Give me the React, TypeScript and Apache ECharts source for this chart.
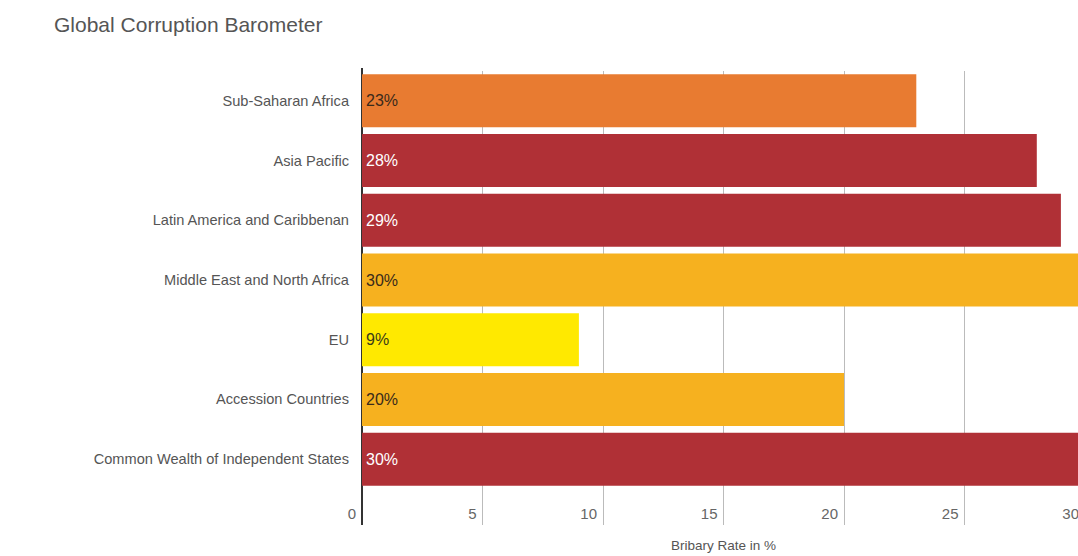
import React, { useEffect, useRef } from "react";
import * as echarts from "echarts";

const title = "Global Corruption Barometer";
const categories = [
  "Sub-Saharan Africa",
  "Asia Pacific",
  "Latin America and Caribbenan",
  "Middle East and North Africa",
  "EU",
  "Accession Countries",
  "Common Wealth of Independent States",
];
const bribaryRates = [23, 28, 29, 30, 9, 20, 30];
const barColors = ["#E87B31", "#B03036", "#B03036", "#F6B11F", "#FFE900", "#F6B11F", "#B03036"];
const labelColors = ["#3a2a1a", "#ffffff", "#ffffff", "#3a2a1a", "#3a3a1a", "#3a2a1a", "#ffffff"];
const xTicks = { min: 0, max: 30, interval: 5 };
const axisName = "Bribary Rate in %";

const FONT = "'Liberation Sans', Arial, sans-serif";

export default function App() {
  const ref = useRef<HTMLDivElement>(null);
  useEffect(() => {
    if (!ref.current) return;
    const chart = echarts.init(ref.current, undefined, { renderer: "svg" });
    const gridLeft = 362;
    const gridTop = 71;
    const gridHeight = 418;
    const gridBottomY = gridTop + gridHeight;
    chart.setOption({
      animation: false,
      backgroundColor: "#ffffff",
      textStyle: { fontFamily: FONT },
      title: {
        text: title,
        left: 49,
        top: 9,
        textStyle: { fontFamily: FONT, fontSize: 21, fontWeight: "normal", color: "#555" },
      },
      grid: {
        left: gridLeft,
        top: gridTop,
        height: gridHeight,
        width: 723,
        containLabel: false,
        outerBoundsMode: "none",
      },
      xAxis: {
        type: "value",
        min: xTicks.min,
        max: xTicks.max,
        interval: xTicks.interval,
        name: axisName,
        nameLocation: "middle",
        nameGap: 49,
        nameTextStyle: { fontFamily: FONT, fontSize: 13.5, color: "#555" },
        axisLine: { show: false },
        axisTick: { show: true, length: 36, lineStyle: { color: "#bbb", width: 1 } },
        axisLabel: {
          fontFamily: FONT,
          fontSize: 15,
          color: "#666",
          align: "right",
          padding: [0, 6, 0, 0],
          margin: 17,
          showMaxLabel: true,
          showMinLabel: true,
        },
        splitLine: { show: true, lineStyle: { color: "#bbb", width: 1 } },
      },
      yAxis: {
        type: "category",
        data: categories,
        inverse: true,
        axisLine: { show: true, lineStyle: { color: "#333", width: 2 } },
        axisTick: { show: false },
        axisLabel: { fontFamily: FONT, fontSize: 14.6, color: "#555", margin: 13 },
        splitLine: { show: false },
      },
      graphic: [
        {
          type: "line",
          shape: { x1: gridLeft, y1: gridBottomY, x2: gridLeft, y2: gridBottomY + 36 },
          style: { stroke: "#333", lineWidth: 2 },
          z: 10,
        },
        {
          type: "line",
          shape: { x1: gridLeft, y1: gridTop - 3, x2: gridLeft, y2: gridTop },
          style: { stroke: "#333", lineWidth: 2 },
          z: 10,
        },
      ],
      series: [
        {
          type: "bar",
          barWidth: 53,
          data: bribaryRates.map((v, i) => ({
            value: v,
            itemStyle: { color: barColors[i] },
            label: { color: labelColors[i] },
          })),
          label: {
            show: true,
            position: "insideLeft",
            distance: 4,
            formatter: "{c}%",
            fontFamily: FONT,
            fontSize: 16,
          },
        },
      ],
    });
    return () => chart.dispose();
  }, []);
  return (
    <div
      ref={ref}
      style={{ position: "fixed", left: 0, top: 0, width: 1078, height: 556 }}
    />
  );
}
